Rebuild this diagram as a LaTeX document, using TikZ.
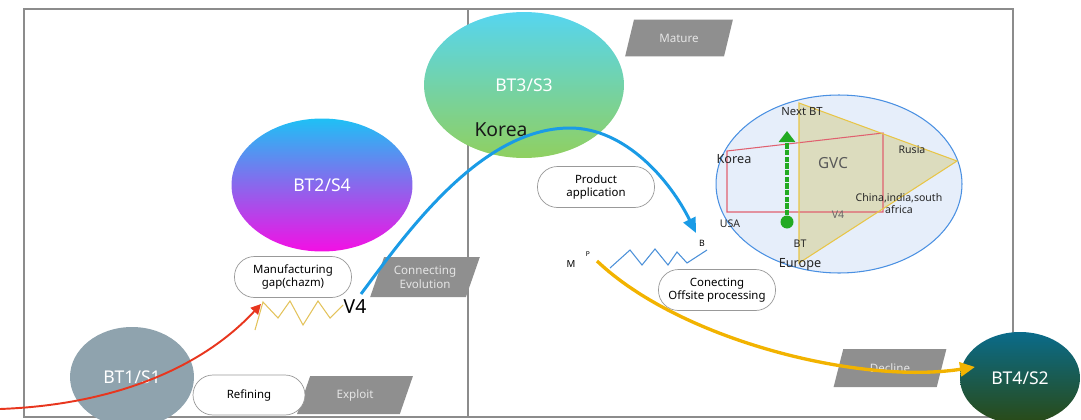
\documentclass[tikz,border=0pt]{standalone}
\usepackage{fontspec}
\setmainfont{Noto Sans}
\usetikzlibrary{shapes.geometric,arrows.meta}
\definecolor{tagfill}{HTML}{8F8F8F}
\definecolor{frameline}{HTML}{8C8C8C}
\definecolor{redarrow}{HTML}{E8361E}
\definecolor{bluearrow}{HTML}{1A9BE6}
\definecolor{orangearrow}{HTML}{F2B300}
\definecolor{zigyellow}{HTML}{E3C35C}
\definecolor{zigblue}{HTML}{4A8FD8}
\definecolor{globefill}{HTML}{E6EEFA}
\definecolor{globeline}{HTML}{4A90E2}
\definecolor{trifill}{HTML}{DCDCBE}
\definecolor{triline}{HTML}{E8C547}
\definecolor{rectred}{HTML}{E0606F}
\definecolor{arrowgreen}{HTML}{22AA22}
\definecolor{btone}{HTML}{8FA3AE}
\definecolor{bttwotop}{HTML}{1FC0F5}
\definecolor{bttwomid}{HTML}{9B4FF0}
\definecolor{bttwobot}{HTML}{F40FE4}
\definecolor{btthreetop}{HTML}{56D5F0}
\definecolor{btthreebot}{HTML}{90D060}
\definecolor{btfourtop}{HTML}{0A6B8A}
\definecolor{btfourbot}{HTML}{2A4A15}
\begin{document}
\begin{tikzpicture}[x=0.02cm, y=-0.02cm,
    every node/.style={font=\small, align=center},
    bubble/.style={ellipse, text=white, font=\fontsize{10}{12}\selectfont, inner sep=0pt},
    tag/.style={trapezium, trapezium left angle=65, trapezium right angle=115,
        trapezium stretches=true, fill=tagfill, text=white!90!black,
        font=\fontsize{6.6}{8}\selectfont, inner sep=0pt},
    pill/.style={draw=gray!80, fill=white, rounded corners=0.4cm,
        minimum width=2.34cm, minimum height=0.82cm,
        font=\fontsize{6.5}{7.6}\selectfont, inner sep=1pt},
    gvclbl/.style={font=\fontsize{6}{6.8}\selectfont, text=black!85, inner sep=0pt},
    smalllbl/.style={font=\fontsize{5.5}{6}\selectfont, inner sep=0pt}]
    \useasboundingbox (0,0) rectangle (1081,419);
    \draw[frameline, line width=0.8pt] (24,417) -- (24,9) -- (1013,9) -- (1013,417) -- cycle;
    \draw[frameline, line width=0.8pt] (468,9) -- (468,417);

    \node[bubble, fill=btone, minimum width=2.48cm, minimum height=2cm] (bt1) at (132,377) {BT1/S1};
    \node[bubble, top color=bttwotop, middle color=bttwomid, bottom color=bttwobot,
        minimum width=3.62cm, minimum height=2.66cm] (bt2) at (322,185) {BT2/S4};
    \node[bubble, top color=btthreetop, bottom color=btthreebot,
        minimum width=4cm, minimum height=2.92cm] (bt3) at (524,85) {BT3/S3};
    \node[font=\fontsize{11}{13}\selectfont, text=black!90] (korea) at (501,130) {Korea};

    \node[tag, minimum width=2.16cm, minimum height=0.74cm] (mature) at (679,38) {Mature};
    \node[tag, minimum width=2.2cm, minimum height=0.8cm] (evolution) at (425,277) {Connecting\\Evolution};
    \node[tag, minimum width=2.32cm, minimum height=0.76cm] (exploit) at (355,395) {Exploit};
    \node[tag, minimum width=2.26cm, minimum height=0.76cm] (decline) at (890,368) {Decline};

    \node[pill] (gap) at (293,277) {Manufacturing\\gap(chazm)};
    \node[pill, minimum width=2.24cm, minimum height=0.8cm] (refining) at (249,395) {Refining};
    \node[pill] (product) at (596,187) {Product\\application};
    \node[pill] (offsite) at (717,290) {Conecting\\Offsite processing};

    \draw[zigyellow, line width=0.6pt] plot coordinates {(255,330) (263,302) (278,318) (290,301) (303,325) (318,301) (330,318) (343,305)};
    \draw[zigblue, line width=0.6pt] plot coordinates {(610,268) (630,250) (642,265) (655,249) (668,265) (677,252) (687,263) (707,250)};
    \node[font=\fontsize{11}{13}\selectfont] (v4) at (355,307) {V4};
    \node[smalllbl] (m) at (571,264) {M};
    \node[smalllbl, font=\fontsize{3.8}{4.5}\selectfont] (p) at (588,254) {P};
    \node[smalllbl, font=\fontsize{5}{6}\selectfont] (b) at (702,243) {B};

    \node[ellipse, draw=globeline, fill=globefill, line width=0.6pt, minimum width=4.92cm, minimum height=3.56cm] (globe) at (839,184) {};
    \fill[trifill] (799,103) -- (957,161) -- (799,263) -- cycle;
    \draw[rectred, line width=0.6pt] (727,151) -- (883,133) -- (883,212) -- (727,212) -- cycle;
    \draw[triline, line width=0.6pt] (799,103) -- (957,161) -- (799,263) -- cycle;
    \node[gvclbl, font=\fontsize{6.4}{7}\selectfont] (nextbt) at (802,112) {Next BT};
    \node[gvclbl, font=\fontsize{7.2}{8}\selectfont] (gkorea) at (734,159) {Korea};
    \node[font=\fontsize{8.7}{10}\selectfont, text=black!65] (gvc) at (833,163) {GVC};
    \node[gvclbl] (rusia) at (912,150) {Rusia};
    \node[gvclbl] (china) at (899,204) {China,india,south\\africa};
    \node[gvclbl, text=black!60] (gv4) at (838,215) {V4};
    \node[gvclbl] (usa) at (730,224) {USA};
    \node[gvclbl] (gbt) at (800,244) {BT};
    \node[gvclbl, font=\fontsize{7.2}{8}\selectfont] (europe) at (800,264) {Europe};

    \node[bubble, top color=btfourtop, bottom color=btfourbot,
        minimum width=2.4cm, minimum height=1.84cm] (bt4) at (1020,378) {BT4/S2};

    \coordinate (src) at (0,409);
    \coordinate (gapin) at (261,304);
    \coordinate (v4out) at (361,294);
    \coordinate (peak) at (570,128);
    \coordinate (bin) at (696,233);
    \coordinate (pout) at (597,261);
    \coordinate (bt4in) at (975,367);
    \coordinate (btdot) at (787,222);
    \coordinate (nexttip) at (787,131);

    \draw[redarrow, line width=1.1pt, -{Triangle[length=0.2cm, width=0.2cm]}] (src) .. controls (110,405) and (200,370) .. (gapin);
    \draw[bluearrow, line width=1.7pt, -{Triangle[length=0.3cm, width=0.26cm]}] (v4out) .. controls (405,235) and (480,128) .. (peak)
        .. controls (625,128) and (670,180) .. (bin);
    \draw[orangearrow, line width=1.9pt, -{Triangle[length=0.3cm, width=0.28cm]}] (pout) .. controls (680,340) and (860,385) .. (bt4in);
    \fill[arrowgreen] (btdot) circle[radius=0.13cm];
    \draw[arrowgreen, line width=2.3pt, dash pattern=on 3pt off 0.8pt, -{Triangle[length=0.22cm, width=0.32cm]}] (btdot) -- (nexttip);
\end{tikzpicture}
\end{document}
